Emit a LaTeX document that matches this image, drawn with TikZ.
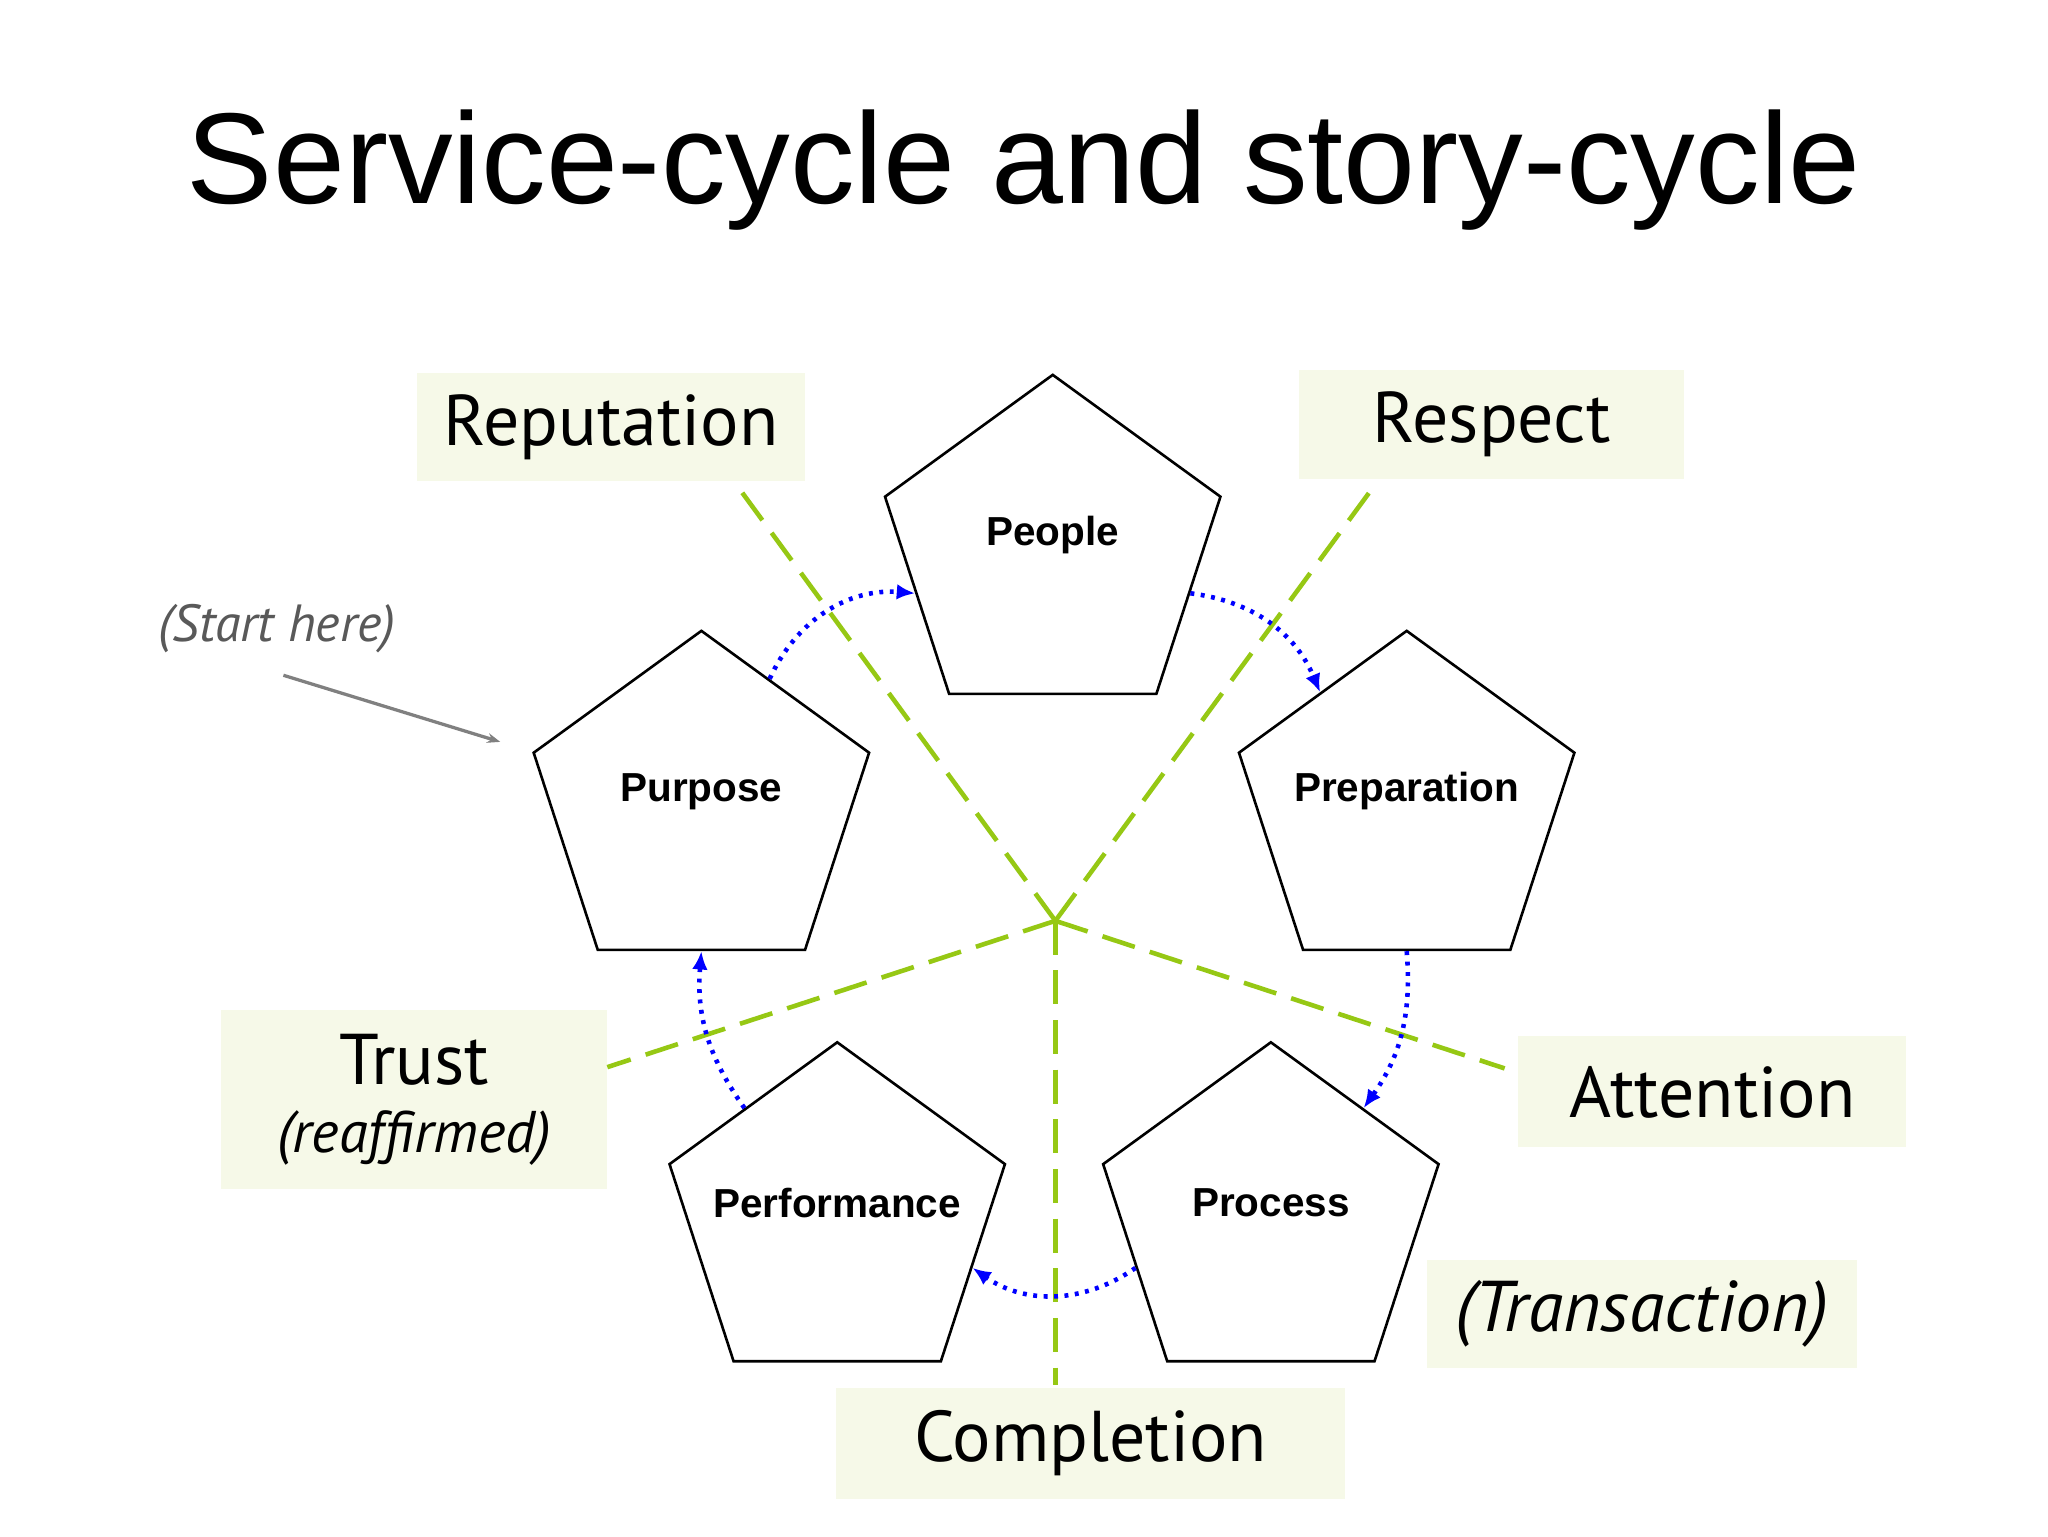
\documentclass[tikz,border=0pt]{standalone}
\usepackage{fontspec}
\setmainfont{Liberation Sans}
\newfontfamily\gill{PT Sans}
\usetikzlibrary{shapes.geometric,arrows.meta}
\definecolor{lg}{RGB}{150,200,20}
\definecolor{boxbg}{RGB}{246,249,232}
\begin{document}
\begin{tikzpicture}[x=1pt,y=-1pt,
  pent/.style={regular polygon,regular polygon sides=5,minimum size=270pt,inner sep=0pt,draw,line width=2pt},
  ptxt/.style={font=\fontsize{31}{36}\selectfont\bfseries},
  lbox/.style={fill=boxbg,font=\gill\fontsize{55}{60}\selectfont},
  gl/.style={lg,line width=3.5pt,dash pattern=on 26pt off 12pt},
  bl/.style={blue,line width=3.5pt,dash pattern=on 3pt off 5pt,-{Latex[length=14pt,width=12pt]}}]
\useasboundingbox (0,0) rectangle (1568,1176);
\fill[white] (0,0) rectangle (1568,1176);
\node[font=\fontsize{99}{105}\selectfont] (title) at (784,130) {Service-cycle and story-cycle};
% label boxes
\node[lbox,minimum width=297pt,minimum height=83pt] (rep) at (468,327) {Reputation};
\node[lbox,minimum width=295pt,minimum height=83pt] (res) at (1142,325) {Respect};
\node[lbox,minimum width=295pt,minimum height=137pt,align=center] (tru) at (317,842) {Trust\\[-8pt]{\itshape\fontsize{45}{50}\selectfont (reaffirmed)}};
\node[lbox,minimum width=297pt,minimum height=85pt] (att) at (1311,836) {Attention};
\node[lbox,minimum width=390pt,minimum height=85pt] (com) at (835,1105) {Completion};
\node[lbox,minimum width=329pt,minimum height=82pt] (tra) at (1257,1006) {\itshape (Transaction)};
% green lines
\coordinate (c) at (808,705);
\coordinate (e1) at (563,370);
\coordinate (e2) at (1055,368);
\coordinate (e3) at (465,817);
\coordinate (e4) at (1152,818);
\coordinate (e5) at (808,1060);
\foreach \e in {e1,e2,e3,e4,e5} \draw[gl] (c) -- (\e);
% pentagons
\node[pent] (peo) at (806,422) {};
\node[pent] (pur) at (537,618) {};
\node[pent] (pre) at (1077,618) {};
\node[pent] (per) at (641,933) {};
\node[pent] (pro) at (973,933) {};
\node[ptxt] at (806,410) {People};
\node[ptxt] at (537,606) {Purpose};
\node[ptxt] at (1077,606) {Preparation};
\node[ptxt] at (641,921) {Performance};
\node[ptxt] at (973,921) {Process};
% blue arrows
\draw[bl] (pur.62) to[bend left=35] (peo.197);
\draw[bl] (peo.-17) to[bend left=30] (pre.127);
\draw[bl] (pre.-90) to[bend left=20] (pro.50);
\draw[bl] (pro.200) to[bend left=35] (per.-20);
\draw[bl] (per.130) to[bend left=20] (pur.-90);
% start here
\node[text=black!65,font=\gill\itshape\fontsize{40}{46}\selectfont] (st) at (212,481) {(Start here)};
\coordinate (sa) at (217,517);
\coordinate (sb) at (383,568);
\draw[black!50,line width=2.5pt,-{Stealth[length=10pt]}] (sa) -- (sb);
\end{tikzpicture}
\end{document}
